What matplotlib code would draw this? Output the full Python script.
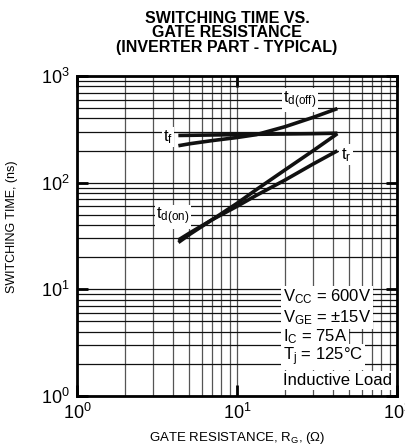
import matplotlib
matplotlib.use('Agg')
import matplotlib.pyplot as plt
from matplotlib.ticker import LogLocator, NullFormatter

plt.rcParams['font.family'] = ['Liberation Sans', 'DejaVu Sans']
plt.rcParams['mathtext.fontset'] = 'custom'
plt.rcParams['mathtext.rm'] = 'Liberation Sans'
plt.rcParams['mathtext.it'] = 'Liberation Sans'

# gate resistance (ohm) and switching times (ns)
rg = [4.3, 5.1, 7, 10, 13.2, 20, 30, 42.4]
t_doff = [222, 232, 248, 265, 282, 335, 410, 495]
t_f = [277, 278, 280, 282, 284, 286, 288, 291]
t_don = [27.5, 33, 45, 64, 86, 132, 200, 288]
t_r = [29, 34, 45, 60, 76, 106, 150, 199]

fig = plt.figure(figsize=(4.06, 4.48), dpi=100)
ax = fig.add_axes([77/406, 52/448, 320/406, 320/448])

ax.set_xscale('log')
ax.set_yscale('log')
ax.set_xlim(1, 100)
ax.set_ylim(1, 1000)

ax.xaxis.set_minor_locator(LogLocator(base=10, subs=range(2, 10)))
ax.yaxis.set_minor_locator(LogLocator(base=10, subs=range(2, 10)))
ax.xaxis.set_minor_formatter(NullFormatter())
ax.yaxis.set_minor_formatter(NullFormatter())

ax.grid(True, which='both', axis='x', color='#555555', lw=0.9)
ax.grid(True, which='both', axis='y', color='#111111', lw=0.9)
ax.set_axisbelow(True)

ax.tick_params(which='major', direction='in', length=8, width=2, top=True, right=True,
               labelsize=13, pad=5)
ax.tick_params(which='minor', length=0)
for s in ax.spines.values():
    s.set_linewidth(2)

lw = 2.6
ax.plot(rg, t_doff, color='#111111', lw=lw, solid_capstyle='butt')
ax.plot(rg, t_f, color='#111111', lw=lw, solid_capstyle='butt')
ax.plot(rg, t_don, color='#111111', lw=lw, solid_capstyle='butt')
ax.plot(rg, t_r, color='#111111', lw=lw, solid_capstyle='butt')

box = dict(facecolor='white', edgecolor='none', pad=1.0)
ax.text(24.8, 597, r'$\mathregular{t_{d(off)}}$', fontsize=12, ha='center', va='center', bbox=box)
ax.text(3.7, 269, r'$\mathregular{t_f}$', fontsize=12, ha='center', va='center', bbox=box)
ax.text(48, 183, r'$\mathregular{t_r}$', fontsize=12, ha='center', va='center', bbox=box)
ax.text(3.98, 48, r'$\mathregular{t_{d(on)}}$', fontsize=12, ha='center', va='center', bbox=box)

cond = [r'$\mathregular{V_{CC}}$ = 600V',
        r'$\mathregular{V_{GE}}$ = ±15V',
        r'$\mathregular{I_C}$ = 75A',
        r'$\mathregular{T_j}$ = 125°C',
        'Inductive Load']
cond_y = [0.309, 0.244, 0.184, 0.122, 0.047]
for s, yy in zip(cond, cond_y):
    ax.text(0.644, yy, s, transform=ax.transAxes, fontsize=12, ha='left', va='center',
            bbox=dict(facecolor='white', edgecolor='none', pad=1.5))

ax.set_xlabel('GATE RESISTANCE, $\\mathregular{R_G}$, (Ω)', fontsize=9.5)
ax.set_ylabel('SWITCHING TIME, (ns)', fontsize=9)
ax.xaxis.set_label_coords(0.5, -0.105)
ax.yaxis.set_label_coords(-0.183, 0.528)
ax.text(0.469, 1.066, 'SWITCHING TIME VS.\nGATE RESISTANCE\n(INVERTER PART - TYPICAL)',
        transform=ax.transAxes, fontsize=11.5, fontweight='bold', linespacing=0.96,
        ha='center', va='bottom')

fig.savefig('out.png', dpi=100)
